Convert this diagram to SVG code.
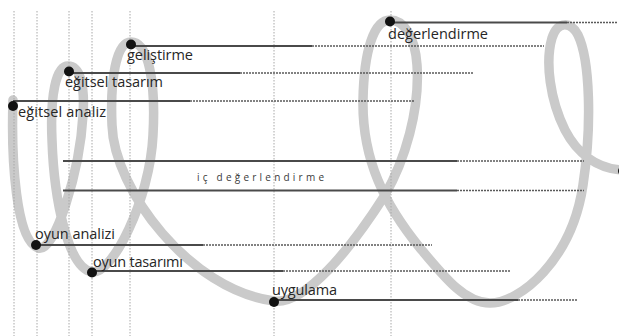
<svg xmlns="http://www.w3.org/2000/svg" width="619" height="336" viewBox="0 0 619 336">
<style>
.rib{fill:none;stroke:#cacaca;stroke-width:9.5;stroke-linecap:round;stroke-linejoin:round}
.vg{stroke:#a8a8a8;stroke-width:1;stroke-dasharray:1.5 1.5;fill:none}
.sl{stroke:#4a4a4a;stroke-width:1.8;fill:none}
.dl{stroke:#5a5a5a;stroke-width:1.7;stroke-dasharray:2 1;fill:none}
.dot{fill:#111}
.lb{font-family:"Open Sans","Noto Sans","DejaVu Sans",sans-serif;font-size:14.5px;fill:#262626}
.ic{font-family:"Open Sans","Noto Sans",sans-serif;font-size:10px;fill:#3a3a3a}
</style>
<rect width="619" height="336" fill="#fff"/>
<path id="ribbon" class="rib" d="M13,100 C11,160 16,240 38,248 C55,254 80,170 83,115 C85,85 80,66 68,66 C56,66 50,95 52,140 C54,200 68,268 92,272 C112,275 150,200 153,135 C156,80 148,42 131,42 C116,42 110,80 112,125 C114,190 190,290 274,301 C305,305 350,250 385,195 C405,160 420,110 417,65 C415,35 403,20 390,20 C374,20 364,50 363,100 C362,160 385,205 420,248 C445,278 465,303 490,303 C520,303 572,260 583,185 C592,125 590,60 578,35 C571,22 558,20 552,38 C545,62 550,100 565,130 C578,155 598,168 621,170"/>
<g id="grid">
<path class="vg" d="M14,11V336M37,11V336M69,11V336M92,11V336M130,11V336M274,11V336M391,11V336"/>
</g>
<g id="connectors">
<path class="sl" d="M390,22.5H567M131,46H312M69,73H240M13,101H190M63,161H457M63,190.5H457M36,245H203M92,271H283M274,300H518"/>
<path class="dl" d="M567,22.5H617M312,46H544M240,73H474M190,101H414M457,161H584M457,190.5H584M203,245H432M283,271H510M518,300H577"/>
</g>
<g id="n-egitsel-analiz"><circle class="dot" cx="13" cy="106" r="5"/><text class="lb" x="18" y="117" textLength="88">eğitsel analiz</text></g>
<g id="n-egitsel-tasarim"><circle class="dot" cx="69" cy="71.5" r="5"/><text class="lb" x="65" y="87" textLength="98">eğitsel tasarım</text></g>
<g id="n-gelistirme"><circle class="dot" cx="131" cy="44.5" r="5"/><text class="lb" x="127" y="60" textLength="66">geliştirme</text></g>
<g id="n-degerlendirme"><circle class="dot" cx="390" cy="21.5" r="5"/><text class="lb" x="388" y="39" textLength="100">değerlendirme</text></g>
<g id="n-ic-degerlendirme"><text class="ic" x="197" y="180.5" textLength="127">iç değerlendirme</text></g>
<g id="n-oyun-analizi"><circle class="dot" cx="36" cy="245" r="5"/><text class="lb" x="35" y="238.5" textLength="80">oyun analizi</text></g>
<g id="n-oyun-tasarimi"><circle class="dot" cx="92" cy="272.5" r="5"/><text class="lb" x="93" y="266.5" textLength="90">oyun tasarımı</text></g>
<g id="n-uygulama"><circle class="dot" cx="274" cy="302" r="5"/><text class="lb" x="272" y="295" textLength="65">uygulama</text></g>
<g id="n-end"><circle class="dot" cx="623" cy="171" r="5"/></g>
</svg>
